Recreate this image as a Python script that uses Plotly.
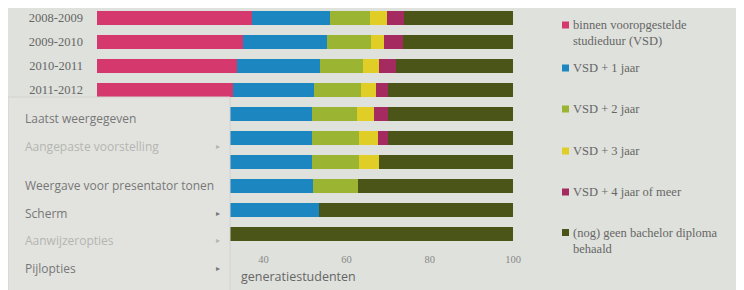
import plotly.graph_objects as go

# ---------------- data ----------------
cohorts = ["2008-2009", "2009-2010", "2010-2011", "2011-2012", "2012-2013",
           "2013-2014", "2014-2015", "2015-2016", "2016-2017", "2017-2018"]
series_names = ["binnen vooropgestelde<br>studieduur (VSD)", "VSD + 1 jaar", "VSD + 2 jaar",
                "VSD + 3 jaar", "VSD + 4 jaar of meer", "(nog) geen bachelor diploma<br>behaald"]
vsd      = [37.3, 35.2, 33.7, 32.8, 31.0, 30.0, 30.0, 30.0, 30.0, 0.0]
vsd_1    = [18.8, 20.2, 20.0, 19.3, 20.8, 21.8, 21.8, 22.0, 23.3, 0.0]
vsd_2    = [9.6, 10.4, 10.2, 11.3, 10.8, 11.1, 11.1, 10.8, 0.0, 0.0]
vsd_3    = [4.1, 3.1, 3.8, 3.6, 3.9, 4.6, 4.8, 0.0, 0.0, 0.0]
vsd_4    = [3.9, 4.6, 4.1, 2.9, 3.4, 2.4, 0.0, 0.0, 0.0, 0.0]
geen     = [26.3, 26.5, 28.2, 30.1, 30.1, 30.1, 32.3, 37.2, 46.7, 100.0]
x_ticks  = [0, 20, 40, 60, 80, 100]
x_title_visible = "generatiestudenten"   # rest of the axis title is hidden behind the menu
visible_rows = 4                          # row labels not hidden behind the menu
menu_items = ["Laatst weergegeven", "Aangepaste voorstelling", "Weergave voor presentator tonen",
              "Scherm", "Aanwijzeropties", "Pijlopties"]
menu_enabled = [True, False, True, True, False, True]
menu_arrow = [False, True, False, True, True, True]

colors = ["#d4386c", "#1c86c0", "#9bb532", "#e0cd25", "#a42a60", "#4c5518"]
values = [vsd, vsd_1, vsd_2, vsd_3, vsd_4, geen]

OFF = 8                       # page body margin
W, H = 744 - OFF, 290 - OFF
L, R, T, B = 89, 231, 0, 44
PW, PH = W - L - R, H - T - B


def px(x):
    return (x - OFF - L) / PW


def py(y):
    return (H - B - (y - OFF)) / PH


fig = go.Figure()
for name, vals, col in zip(series_names, values, colors):
    fig.add_trace(go.Bar(y=cohorts, x=vals, name=name, orientation="h",
                         marker=dict(color=col, line=dict(width=0)), showlegend=False))

bg = "#dfe1dc"
serif = "Liberation Serif, DejaVu Serif, serif"
sans = "Open Sans, DejaVu Sans, sans-serif"
ticktext = [c if i < visible_rows else "" for i, c in enumerate(cohorts)]
fig.update_layout(
    width=W, height=H, barmode="stack", bargap=0.44,
    margin=dict(l=L, r=R, t=T, b=B),
    paper_bgcolor=bg, plot_bgcolor=bg,
    font=dict(family=serif, size=12, color="#666"),
    xaxis=dict(range=[0, 100], tickvals=x_ticks, ticktext=[str(v) for v in x_ticks],
               showgrid=False, zeroline=False, showline=False, ticklabelstandoff=5,
               tickfont=dict(size=10.5, color="#888"), ticklen=0, fixedrange=True),
    yaxis=dict(range=[9.5, -0.4167], showgrid=False, showline=False, ticklen=0,
               tickvals=cohorts, ticktext=ticktext, ticklabelstandoff=13,
               tickfont=dict(size=12.5, color="#666")),
)

annotations = []
shapes = []

# axis title (visible part)
annotations.append(dict(xref="paper", yref="paper", x=px(239), y=py(276), xanchor="left",
                        yanchor="middle", text=x_title_visible, showarrow=False,
                        font=dict(size=12.5, color="#666", family=sans)))

# custom legend
leg_y = [33.5, 68, 109, 151, 192, 241]
for name, col, yy in zip(series_names, colors, leg_y):
    my = yy - 8.5 if "<br>" in name else yy
    shapes.append(dict(type="rect", xref="paper", yref="paper",
                       x0=px(562), x1=px(569), y0=py(my + 3.5), y1=py(my - 3.5),
                       fillcolor=col, line=dict(width=0)))
    annotations.append(dict(xref="paper", yref="paper", x=px(571), y=py(yy), xanchor="left",
                            yanchor="middle", align="left", text=name, showarrow=False,
                            font=dict(size=12.5, color="#666", family=serif)))

# popup menu overlay
shapes.append(dict(type="rect", xref="paper", yref="paper", x0=px(8), x1=px(230),
                   y0=py(292), y1=py(97), fillcolor="#e2e3df",
                   line=dict(color="#d2d3cf", width=1), layer="above"))
menu_y = [118, 147, 185, 213, 240, 268]
for txt, en, ar, yy in zip(menu_items, menu_enabled, menu_arrow, menu_y):
    annotations.append(dict(xref="paper", yref="paper", x=px(23), y=py(yy), xanchor="left",
                            yanchor="middle", text=txt, showarrow=False,
                            font=dict(size=12, color="#777" if en else "#b4b5b1", family=sans)))
    if ar:
        annotations.append(dict(xref="paper", yref="paper", x=px(218), y=py(yy), xanchor="center",
                                yanchor="middle", text="▸", showarrow=False,
                                font=dict(size=8, color="#777" if en else "#b4b5b1",
                                          family="DejaVu Sans, sans-serif")))

fig.update_layout(annotations=annotations, shapes=shapes)
fig.write_html("out.html")
